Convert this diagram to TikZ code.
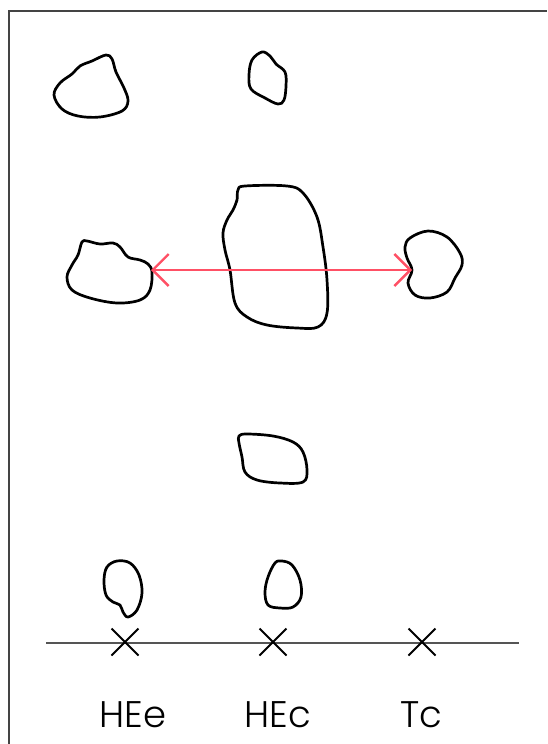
\documentclass[tikz,border=0pt]{standalone}
\usepackage{fontspec}
\setmainfont{Poppins}[UprightFont=* Light]
\usepackage{xcolor}
\definecolor{frameline}{HTML}{444444}
\definecolor{axisline}{HTML}{555555}
\definecolor{spread}{HTML}{FF5065}
\usepackage{tikz}
\usetikzlibrary{arrows.meta, shapes.misc}

\begin{document}
\begin{tikzpicture}[
    x=1pt, y=-1pt,
    blob/.style={draw=black, line width=2.7pt, line join=round},
    crossmark/.style={draw=black, cross out, line width=2pt, minimum size=25pt, inner sep=0pt},
    axislabel/.style={font=\fontsize{37}{40}\selectfont, inner sep=0pt, anchor=base},
    arrow/.style={{Straight Barb[length=16pt, width=32pt]}-{Straight Barb[length=16pt, width=32pt]}, color=spread, line width=2.4pt}
]
\useasboundingbox (0,0) rectangle (547,744);

% Frame
\draw[frameline, line width=1.2pt] (9,744) -- (9,11) -- (547,11);

% Top row
\draw[blob] plot[smooth cycle, tension=0.6] coordinates {(54,95) (60,83) (72,74) (80,66) (92,61) (106,55) (112,59) (116,72) (124,88) (128,101) (122,111) (100,117) (78,116) (62,109)};
\draw[blob] plot[smooth cycle, tension=0.6] coordinates {(262,52) (270,56) (276,64) (285,72) (286,86) (284,100) (278,104) (265,98) (251,89) (249,75) (252,60)};

% Middle row
\draw[blob] plot[smooth cycle, tension=0.6] coordinates {(67,277) (72,265) (78,255) (82,242) (87,241) (100,244) (113,243) (120,247) (128,257) (140,260) (148,264) (152,272) (150,290) (140,300) (117,303) (90,298) (72,290)};
\draw[blob] plot[smooth cycle, tension=0.6] coordinates {(238,190) (245,186) (287,186) (303,193) (317,217) (323,247) (327,280) (327,313) (318,327) (297,328) (267,325) (247,317) (235,303) (230,270) (225,250) (223,233) (227,220) (233,210) (237,200)};
\draw[blob] plot[smooth cycle, tension=0.6] coordinates {(405,247) (410,238) (428,231) (447,237) (460,253) (462,265) (455,278) (447,292) (430,298) (415,295) (408,283) (412,270) (407,258)};

% Lower rows
\draw[blob] plot[smooth cycle, tension=0.6] coordinates {(239,436) (247,434) (273,436) (293,442) (303,452) (307,470) (303,482) (280,483) (257,480) (245,472) (242,457) (239,443)};
\draw[blob] plot[smooth cycle, tension=0.6] coordinates {(107,567) (117,561) (130,563) (139,575) (142,593) (137,610) (128,617) (123,612) (120,605) (113,602) (106,595) (104,580)};
\draw[blob] plot[smooth cycle, tension=0.6] coordinates {(275,563) (282,561) (292,565) (300,580) (301,597) (293,607) (280,608) (268,605) (265,592) (268,577)};

% Spread arrow
\coordinate (left) at (151,270);
\coordinate (right) at (412,270);
\draw[arrow] (left) -- (right);

% Axis
\coordinate (axstart) at (46,643);
\coordinate (axend) at (519,643);
\draw[axisline, line width=1.4pt] (axstart) -- (axend);
\node[crossmark] (hee) at (125,642) {};
\node[crossmark] (hec) at (273,642) {};
\node[crossmark] (tc) at (422,642) {};

% Labels
\node[axislabel] (heelbl) at (133,727) {HEe};
\node[axislabel] (heclbl) at (278,727) {HEc};
\node[axislabel] (tclbl) at (421,727) {Tc};

\end{tikzpicture}
\end{document}
